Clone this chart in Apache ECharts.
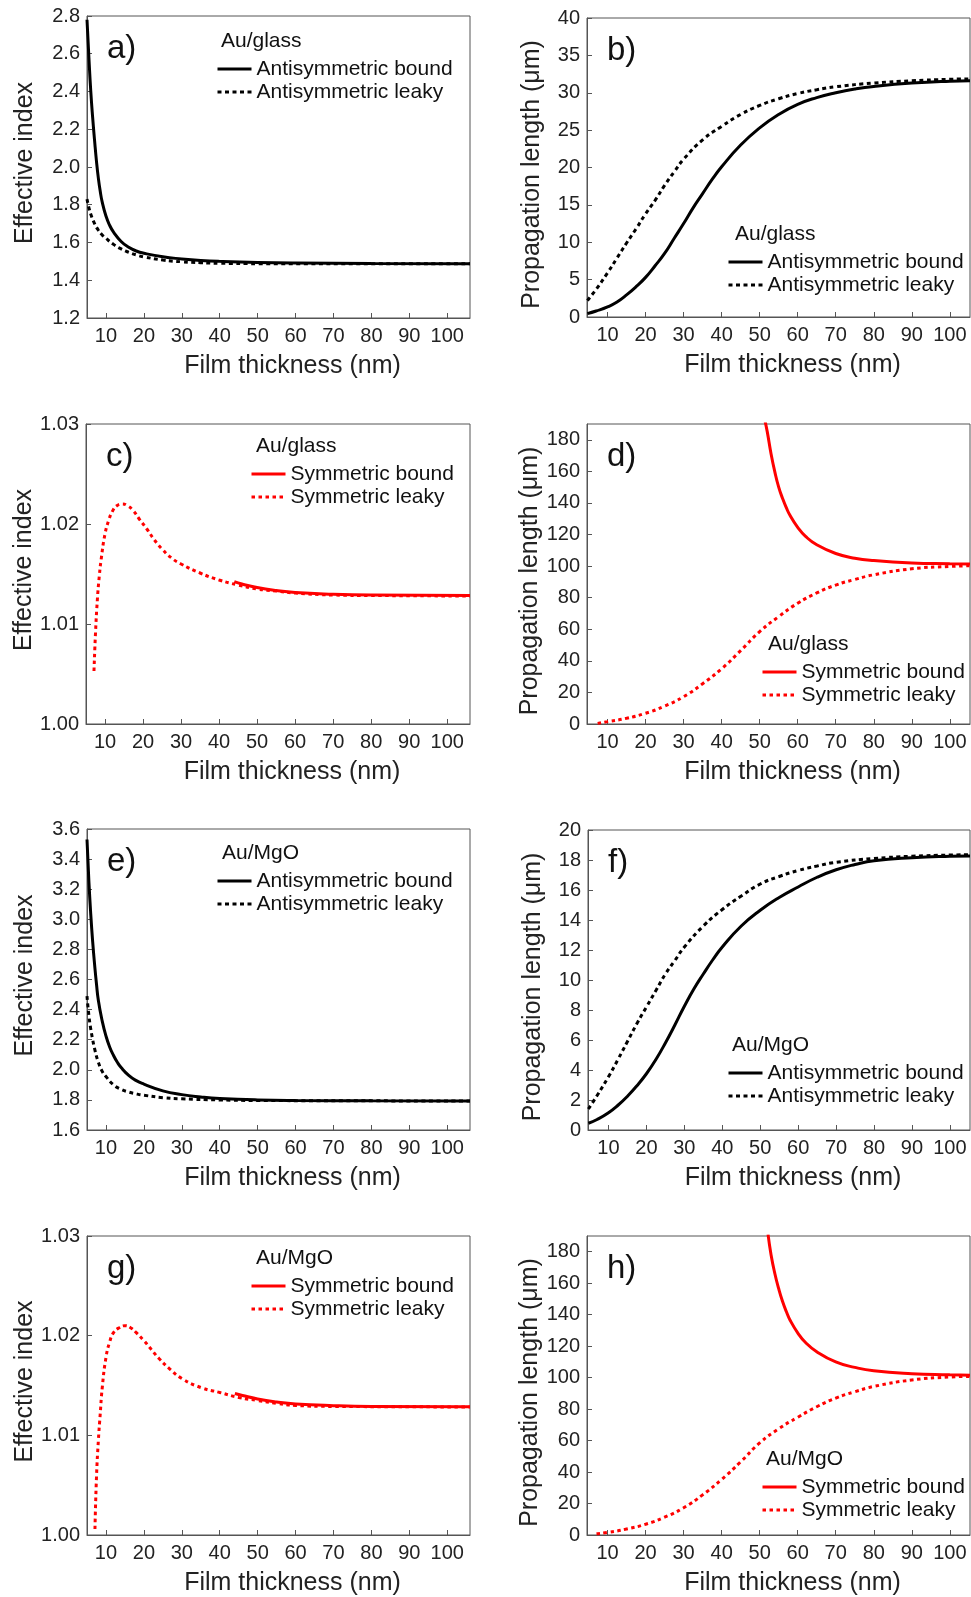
<!DOCTYPE html>
<html>
<head>
<meta charset="utf-8">
<script src="https://cdn.jsdelivr.net/npm/echarts@6/dist/echarts.min.js"></script>
<style>
  html, body { margin: 0; background: #fff; }
  #chart { width: 971px; height: 1597px; }
</style>
</head>
<body>
<div id="chart"></div>
<script>
// film thickness tick labels (nm)
const thicknessTicks = [10, 20, 30, 40, 50, 60, 70, 80, 90, 100];
const lengthTicksSym = [0, 20, 40, 60, 80, 100, 120, 140, 160, 180];

// a) Au/glass effective index, antisymmetric modes  [thickness, n_eff]
const aBound = [[5, 2.78], [5.5, 2.58], [6, 2.40], [6.5, 2.26], [7, 2.14], [7.5, 2.03], [8, 1.94], [8.5, 1.87], [9, 1.815], [10, 1.74], [11, 1.69], [12, 1.655], [14, 1.605], [16, 1.575], [18, 1.555], [20, 1.543], [25, 1.524], [30, 1.513], [35, 1.505], [40, 1.5], [50, 1.494], [60, 1.491], [80, 1.489], [106, 1.488]];
const aLeaky = [[5, 1.83], [5.5, 1.785], [6, 1.75], [7, 1.7], [8, 1.665], [9, 1.64], [10, 1.622], [12, 1.59], [14, 1.566], [16, 1.548], [18, 1.534], [20, 1.524], [25, 1.507], [30, 1.498], [35, 1.493], [40, 1.49], [50, 1.488], [106, 1.487]];

// b) Au/glass propagation length, antisymmetric modes (um)
const bBound = [[4.7, 0.45], [7, 0.8], [10, 1.35], [12.5, 2.0], [15, 2.95], [17.5, 4.05], [20, 5.3], [22.5, 6.85], [25, 8.5], [27.5, 10.5], [30, 12.5], [32.5, 14.6], [35, 16.5], [37.5, 18.4], [40, 20.1], [45, 23.0], [50, 25.3], [55, 27.1], [60, 28.45], [65, 29.35], [70, 30.0], [75, 30.5], [80, 30.85], [90, 31.3], [100, 31.55], [105.3, 31.6]];
const bLeaky = [[4.7, 2.2], [7, 3.7], [10, 5.9], [12.5, 7.9], [15, 9.9], [17.5, 11.8], [20, 13.8], [22.5, 15.6], [25, 17.6], [27.5, 19.4], [30, 21.1], [35, 23.7], [40, 25.5], [45, 27.1], [50, 28.3], [55, 29.2], [60, 29.9], [65, 30.4], [70, 30.8], [80, 31.3], [90, 31.6], [100, 31.8], [105.3, 31.85]];

// c) Au/glass effective index, symmetric modes
const cBound = [[44, 1.01423], [46, 1.0140], [50, 1.01365], [55, 1.01335], [60, 1.01315], [70, 1.01298], [80, 1.0129], [106, 1.01285]];
const cLeaky = [[7.1, 1.0053], [7.5, 1.0091], [8, 1.0125], [8.5, 1.0148], [9, 1.0165], [10, 1.0190], [11, 1.0204], [12, 1.0213], [13, 1.0218], [14.5, 1.0220], [16, 1.0218], [17.5, 1.0213], [19, 1.0205], [21, 1.0195], [23, 1.0184], [25, 1.0175], [27.5, 1.0166], [30, 1.0160], [35, 1.0151], [40, 1.0144], [45, 1.0139], [50, 1.0135], [55, 1.0133], [60, 1.0131], [70, 1.0129], [80, 1.01285], [106, 1.0128]];

// d) Au/glass propagation length, symmetric modes (um)
const dBound = [[51.4, 192], [52, 185], [53, 171], [54, 159.5], [55, 150], [56, 143], [57, 137], [58, 132], [60, 124.5], [62, 119], [65, 113.5], [70, 108], [75, 105], [80, 103.5], [90, 102], [100, 101.5], [105.3, 101.3]];
const dLeaky = [[7.4, 0.4], [10, 1.5], [15, 3.6], [20, 6.8], [25, 11.3], [30, 17.3], [35, 25.5], [40, 35], [45, 46.5], [50, 58.5], [55, 68], [60, 76.5], [65, 83], [70, 88], [75, 91.5], [80, 94.5], [90, 98.3], [100, 99.8], [105.3, 100.2]];

// e) Au/MgO effective index, antisymmetric modes
const eBound = [[5, 3.53], [5.5, 3.25], [6, 3.03], [6.5, 2.85], [7, 2.70], [7.5, 2.57], [8, 2.46], [9, 2.325], [10, 2.225], [11, 2.15], [12, 2.095], [13, 2.05], [14, 2.015], [16, 1.963], [18, 1.928], [20, 1.905], [25, 1.86], [30, 1.835], [35, 1.82], [40, 1.81], [50, 1.8], [60, 1.796], [80, 1.794], [106, 1.793]];
const eLeaky = [[5, 2.49], [5.5, 2.36], [6, 2.27], [6.5, 2.2], [7, 2.14], [8, 2.05], [9, 1.99], [10, 1.955], [12, 1.9], [14, 1.87], [16, 1.852], [18, 1.84], [20, 1.831], [25, 1.815], [30, 1.807], [40, 1.8], [50, 1.796], [106, 1.793]];

// f) Au/MgO propagation length, antisymmetric modes (um)
const fBound = [[4.7, 0.45], [7, 0.7], [10, 1.15], [12.5, 1.65], [15, 2.25], [17.5, 2.95], [20, 3.75], [22.5, 4.7], [25, 5.8], [27.5, 7.0], [30, 8.25], [32.5, 9.4], [35, 10.4], [37.5, 11.35], [40, 12.2], [45, 13.6], [50, 14.65], [55, 15.5], [60, 16.2], [65, 16.85], [70, 17.35], [75, 17.7], [80, 17.95], [90, 18.15], [100, 18.25], [105.3, 18.27]];
const fLeaky = [[4.7, 1.4], [7, 2.3], [10, 3.55], [12.5, 4.7], [15, 5.9], [17.5, 7.1], [20, 8.2], [22.5, 9.3], [25, 10.4], [27.5, 11.3], [30, 12.2], [35, 13.6], [40, 14.7], [45, 15.6], [50, 16.4], [55, 16.9], [60, 17.3], [65, 17.6], [70, 17.85], [80, 18.1], [90, 18.25], [100, 18.33], [105.3, 18.35]];

// g) Au/MgO effective index, symmetric modes
const gBound = [[44, 1.0142], [46, 1.0140], [50, 1.01365], [55, 1.01335], [60, 1.01315], [70, 1.01298], [80, 1.0129], [106, 1.01287]];
const gLeaky = [[7.1, 1.0006], [7.5, 1.0058], [8, 1.0095], [8.5, 1.0122], [9, 1.0147], [10, 1.0178], [11, 1.0194], [12, 1.0203], [13.5, 1.0208], [15, 1.0210], [16.5, 1.0208], [18, 1.0203], [20, 1.0195], [22, 1.0186], [24, 1.0177], [27, 1.0166], [30, 1.0157], [35, 1.0148], [40, 1.0143], [45, 1.0138], [50, 1.0135], [55, 1.0132], [60, 1.0130], [70, 1.0129], [106, 1.01285]];

// h) Au/MgO propagation length, symmetric modes (um)
const hBound = [[52.2, 191], [53, 178], [54, 166], [55, 156.5], [56, 148.5], [57, 142], [58, 136.5], [60, 128.5], [62, 122.5], [65, 116.5], [70, 110], [75, 106.5], [80, 104.3], [90, 102.5], [100, 101.8], [105.3, 101.5]];
const hLeaky = [[7.1, 0.8], [10, 1.6], [15, 3.8], [20, 6.8], [25, 11.3], [30, 17.3], [35, 25.5], [40, 35.3], [45, 46.5], [50, 58.5], [55, 67.5], [60, 74.8], [65, 81.5], [70, 87], [75, 91], [80, 94.4], [90, 98.5], [100, 100.4], [105.3, 100.8]];

const FONT = '"Liberation Sans", Arial, sans-serif';
const TXT = '#222';
const FRAME = '#555';
const RED = '#ff0000';

const ANTI = ['Antisymmetric bound', 'Antisymmetric leaky'];
const SYM = ['Symmetric bound', 'Symmetric leaky'];

// panel layout (left column starts at 5 nm, right column a bit lower)
const panels = [
  { tag: 'a)', host: 'Au/glass', modes: ANTI, color: '#000', bound: aBound, leaky: aLeaky,
    grid: { left: 87, top: 16, width: 383, height: 302 }, xr: [5, 106],
    y: { min: 1.2, max: 2.8, interval: 0.2, dec: 1 }, yName: 'Effective index', yGap: 49, yPad: [0, 0, 0, 8],
    legend: [216, 221, 43] },
  { tag: 'b)', host: 'Au/glass', modes: ANTI, color: '#000', bound: bBound, leaky: bLeaky,
    grid: { left: 587, top: 18, width: 383, height: 299 }, xr: [4.6, 105.3],
    y: { min: 0, max: 40, interval: 5, dec: 0 }, yName: 'Propagation length (\u03bcm)', yGap: 42, yPad: [0, 14, 0, 0],
    legend: [727, 735, 236] },
  { tag: 'c)', host: 'Au/glass', modes: SYM, color: RED, bound: cBound, leaky: cLeaky,
    grid: { left: 86, top: 424, width: 384, height: 300 }, xr: [5, 106],
    y: { min: 1.0, max: 1.03, interval: 0.01, dec: 2 }, yName: 'Effective index', yGap: 49, yPad: [0, 0, 0, 8],
    legend: [250, 256, 448] },
  { tag: 'd)', host: 'Au/glass', modes: SYM, color: RED, bound: dBound, leaky: dLeaky,
    grid: { left: 587, top: 424, width: 383, height: 300 }, xr: [4.6, 105.3],
    y: { min: 0, max: 190, ticks: lengthTicksSym, dec: 0 }, yName: 'Propagation length (\u03bcm)', yGap: 42, yPad: [0, 14, 0, 0],
    legend: [761, 768, 646] },
  { tag: 'e)', host: 'Au/MgO', modes: ANTI, color: '#000', bound: eBound, leaky: eLeaky,
    grid: { left: 87, top: 829, width: 383, height: 301 }, xr: [5, 106],
    y: { min: 1.6, max: 3.6, interval: 0.2, dec: 1 }, yName: 'Effective index', yGap: 49, yPad: [0, 0, 0, 8],
    legend: [216, 222, 855] },
  { tag: 'f)', host: 'Au/MgO', modes: ANTI, color: '#000', bound: fBound, leaky: fLeaky,
    grid: { left: 588, top: 830, width: 382, height: 300 }, xr: [4.6, 105.3],
    y: { min: 0, max: 20, interval: 2, dec: 0 }, yName: 'Propagation length (\u03bcm)', yGap: 42, yPad: [0, 14, 0, 0],
    legend: [727, 732, 1047] },
  { tag: 'g)', host: 'Au/MgO', modes: SYM, color: RED, bound: gBound, leaky: gLeaky,
    grid: { left: 87, top: 1236, width: 383, height: 299 }, xr: [5, 106],
    y: { min: 1.0, max: 1.03, interval: 0.01, dec: 2 }, yName: 'Effective index', yGap: 49, yPad: [0, 0, 0, 8],
    legend: [250, 256, 1260] },
  { tag: 'h)', host: 'Au/MgO', modes: SYM, color: RED, bound: hBound, leaky: hLeaky,
    grid: { left: 587, top: 1236, width: 383, height: 300 }, xr: [4.6, 105.3],
    y: { min: 0, max: 190, ticks: lengthTicksSym, dec: 0 }, yName: 'Propagation length (\u03bcm)', yGap: 42, yPad: [0, 14, 0, 0],
    legend: [761, 766, 1461] },
];

const grids = [], xAxes = [], yAxes = [], series = [], legends = [], graphics = [];

panels.forEach((p, i) => {
  grids.push(Object.assign({ show: true, borderColor: FRAME, borderWidth: 1 }, p.grid));

  xAxes.push({
    type: 'value', gridIndex: i, min: p.xr[0], max: p.xr[1],
    name: 'Film thickness (nm)', nameLocation: 'middle', nameGap: 36,
    nameTextStyle: { fontSize: 25, color: TXT, fontFamily: FONT, padding: [0, 0, 0, 28] },
    axisLine: { show: true, lineStyle: { color: FRAME, width: 1 } },
    axisTick: { show: true, inside: true, length: 5, lineStyle: { color: FRAME }, customValues: thicknessTicks },
    axisLabel: { fontSize: 20, color: TXT, fontFamily: FONT, margin: 8, customValues: thicknessTicks },
    splitLine: { show: false },
  });

  const y = {
    type: 'value', gridIndex: i, min: p.y.min, max: p.y.max,
    name: p.yName, nameLocation: 'middle', nameGap: p.yGap,
    nameTextStyle: { fontSize: 25, color: TXT, fontFamily: FONT, padding: p.yPad },
    axisLine: { show: true, lineStyle: { color: FRAME, width: 1 } },
    axisTick: { show: true, inside: true, length: 5, lineStyle: { color: FRAME } },
    axisLabel: { fontSize: 20, color: TXT, fontFamily: FONT, margin: 7,
      formatter: (v) => Number(v).toFixed(p.y.dec) },
    splitLine: { show: false },
  };
  if (p.y.ticks) {
    y.axisTick.customValues = p.y.ticks;
    y.axisLabel.customValues = p.y.ticks;
  } else {
    y.interval = p.y.interval;
  }
  yAxes.push(y);

  const dash = p.color === RED ? [3.5, 3.5] : [4, 3.5];
  // leaky first so the bound curve sits on top where they merge
  series.push({
    name: p.modes[1], type: 'line', xAxisIndex: i, yAxisIndex: i, data: p.leaky,
    symbol: 'none', smooth: 0.5, silent: true,
    lineStyle: { color: p.color, width: 3, type: dash },
    itemStyle: { color: p.color },
  });
  series.push({
    name: p.modes[0], type: 'line', xAxisIndex: i, yAxisIndex: i, data: p.bound,
    symbol: 'none', smooth: 0.5, silent: true,
    lineStyle: { color: p.color, width: 3 },
    itemStyle: { color: p.color },
  });

  const [iconX, hostX, hostY] = p.legend;
  legends.push({
    data: [p.modes[0], p.modes[1]], orient: 'vertical', left: iconX, top: hostY + 15,
    padding: 0, itemGap: 1, itemWidth: 34, itemHeight: 22, selectedMode: false,
    itemStyle: { opacity: 0 }, lineStyle: { width: 3 },
    textStyle: { fontSize: 21, color: '#111', fontFamily: FONT, lineHeight: 22 },
  });

  graphics.push({
    type: 'text', left: hostX, top: hostY - 12,
    style: { text: p.host, fontSize: 21, fill: '#111', fontFamily: FONT },
  });
  graphics.push({
    type: 'text', left: p.grid.left + 20, top: p.grid.top + 16,
    style: { text: p.tag, fontSize: 33, fill: '#111', fontFamily: FONT },
  });
});

const chart = echarts.init(document.getElementById('chart'), null, { renderer: 'canvas' });
chart.setOption({
  animation: false,
  backgroundColor: '#fff',
  grid: grids,
  xAxis: xAxes,
  yAxis: yAxes,
  legend: legends,
  series: series,
  graphic: graphics,
});
</script>
</body>
</html>
